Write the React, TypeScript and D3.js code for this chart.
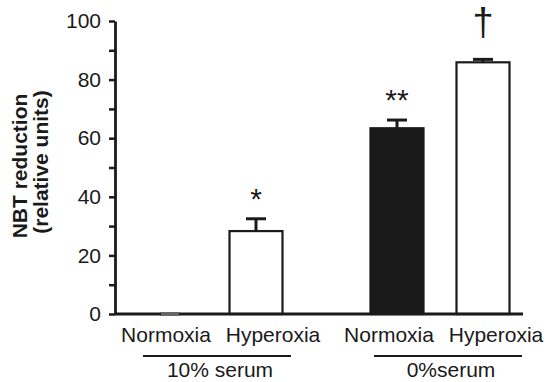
import { useEffect, useRef } from "react"
import * as d3 from "d3"

const groups = ["10% serum", "0%serum"]
const conditions = ["Normoxia", "Hyperoxia"]
// order: 10% Normoxia, 10% Hyperoxia, 0% Normoxia, 0% Hyperoxia
const means = [0, 28.3, 63.4, 85.9]
const errors = [0, 4.2, 2.8, 1.0]
const filled = [false, false, true, false]
const markers = ["", "*", "**", "†"]
const yTicks = [0, 10, 20, 30, 40, 50, 60, 70, 80, 90, 100]

export default function App() {
  const svgRef = useRef<SVGSVGElement>(null)

  useEffect(() => {
    if (!svgRef.current) return
    const width = 548
    const height = 382
    const ink = "#1a1a1a"
    const font = "'Liberation Sans', Arial, sans-serif"

    const svg = d3.select(svgRef.current).attr("width", width).attr("height", height)
    svg.selectAll("*").remove()

    const y = d3.scaleLinear().domain([0, 100]).range([314, 21])
    const xGroup = d3.scalePoint<string>().domain(groups).range([213, 440])
    const xInner = d3.scalePoint<string>().domain(conditions).range([-43, 43])
    const labelGroup = d3.scalePoint<string>().domain(groups).range([219, 442])
    const labelInner = d3.scalePoint<string>().domain(conditions).range([-53, 54])
    const lineGroup = d3.scalePoint<string>().domain(groups).range([217, 448])

    const rows = means.map((m, i) => ({
      group: groups[Math.floor(i / 2)],
      cond: conditions[i % 2],
      mean: m,
      err: errors[i],
      filled: filled[i],
      marker: markers[i],
    }))
    const cx = (d: (typeof rows)[number]) => (xGroup(d.group) || 0) + (xInner(d.cond) || 0)
    const barW = 53

    // bars
    svg
      .append("g")
      .selectAll("rect")
      .data(rows.filter((d) => d.mean > 0))
      .enter()
      .append("rect")
      .attr("x", (d) => cx(d) - barW / 2)
      .attr("y", (d) => y(d.mean))
      .attr("width", barW)
      .attr("height", (d) => y(0) - y(d.mean))
      .attr("fill", (d) => (d.filled ? ink : "#fff"))
      .attr("stroke", ink)
      .attr("stroke-width", 2.2)

    // error bars
    const eb = svg.append("g").attr("stroke", ink).attr("stroke-width", 3)
    rows.forEach((d) => {
      const top = y(d.mean + d.err)
      if (d.err > 0) {
        eb.append("line").attr("x1", cx(d)).attr("x2", cx(d)).attr("y1", y(d.mean)).attr("y2", top)
      }
      eb.append("line")
        .attr("x1", cx(d) - 10)
        .attr("x2", cx(d) + 10)
        .attr("y1", top)
        .attr("y2", top)
        .attr("stroke", d.mean === 0 ? "#777" : ink)
    })

    // x axis line
    svg
      .append("line")
      .attr("x1", 115)
      .attr("x2", 523)
      .attr("y1", y(0))
      .attr("y2", y(0))
      .attr("stroke", ink)
      .attr("stroke-width", 2.8)

    // zero-height bar cap drawn over the axis
    rows
      .filter((d) => d.mean === 0)
      .forEach((d) => {
        svg
          .append("line")
          .attr("x1", cx(d) - 9)
          .attr("x2", cx(d) + 9)
          .attr("y1", y(0))
          .attr("y2", y(0))
          .attr("stroke", "#666")
          .attr("stroke-width", 2)
      })

    // y axis
    const yAxis = svg
      .append("g")
      .attr("transform", "translate(115,0)")
      .call(
        d3
          .axisLeft(y)
          .tickValues(yTicks)
          .tickSize(6)
          .tickSizeOuter(0)
          .tickPadding(8)
          .tickFormat((d) => ((d as number) % 20 === 0 ? String(d) : ""))
      )
    yAxis.select(".domain").attr("stroke", ink).attr("stroke-width", 2.8)
    yAxis.selectAll(".tick line").attr("stroke", ink).attr("stroke-width", 2.5)
    yAxis
      .selectAll(".tick text")
      .attr("fill", ink)
      .attr("font-family", font)
      .attr("font-size", 21)

    // significance markers
    svg
      .append("g")
      .selectAll("text")
      .data(rows.filter((d) => d.marker))
      .enter()
      .append("text")
      .attr("x", cx)
      .attr("y", (d) => y(d.mean + d.err) - (d.marker === "†" ? 24 : 10))
      .attr("text-anchor", "middle")
      .attr("font-family", font)
      .attr("font-size", (d) => (d.marker === "†" ? 38 : 30))
      .attr("fill", ink)
      .text((d) => d.marker)

    // category labels
    svg
      .append("g")
      .selectAll("text")
      .data(rows)
      .enter()
      .append("text")
      .attr("x", (d) => (labelGroup(d.group) || 0) + (labelInner(d.cond) || 0))
      .attr("y", 342)
      .attr("text-anchor", "middle")
      .attr("font-family", font)
      .attr("font-size", 21)
      .attr("fill", ink)
      .text((d) => d.cond)

    // group lines and labels
    groups.forEach((g) => {
      const c = lineGroup(g) || 0
      svg
        .append("line")
        .attr("x1", c - 74)
        .attr("x2", c + 74)
        .attr("y1", 356)
        .attr("y2", 356)
        .attr("stroke", ink)
        .attr("stroke-width", 2)
      svg
        .append("text")
        .attr("x", c + 3)
        .attr("y", 377)
        .attr("text-anchor", "middle")
        .attr("font-family", font)
        .attr("font-size", 21)
        .attr("fill", ink)
        .text(g)
    })

    // y axis title
    const title = svg
      .append("text")
      .attr("transform", "rotate(-90)")
      .attr("font-family", font)
      .attr("font-size", 21)
      .attr("font-weight", "bold")
      .attr("fill", ink)
      .attr("text-anchor", "middle")
    title.append("tspan").attr("x", -166).attr("y", 27).text("NBT reduction")
    title.append("tspan").attr("x", -162).attr("y", 48).text("(relative units)")
  }, [])

  return (
    <svg
      ref={svgRef}
      style={{ position: "absolute", left: 0, top: 0, background: "#fff" }}
    />
  )
}
